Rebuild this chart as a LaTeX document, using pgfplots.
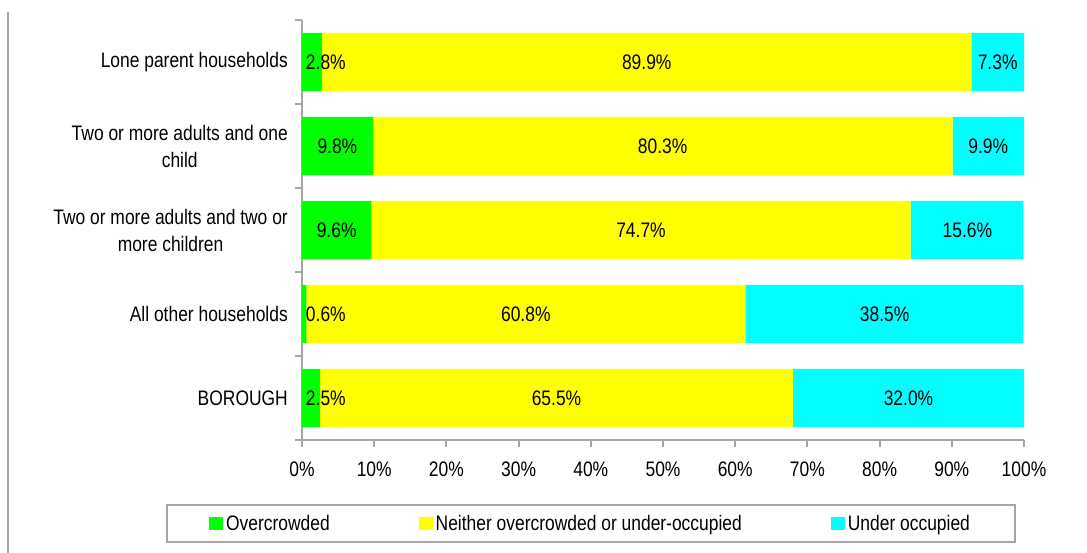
\documentclass[border=0pt]{standalone}
\usepackage{pgfplots}
\pgfplotsset{compat=1.18}
\usepackage{fontspec}
\setmainfont[FakeStretch=0.83]{Liberation Sans}
\definecolor{axgray}{RGB}{166,166,166}
\definecolor{cgreen}{RGB}{0,255,0}
\definecolor{cyellow}{RGB}{255,255,0}
\definecolor{ccyan}{RGB}{0,255,255}
\begin{document}
\begin{tikzpicture}[font=\fontsize{21bp}{27bp}\selectfont]
\path[use as bounding box] (0bp,0bp) rectangle (1087bp,553bp);
\draw[axgray, line width=1.5bp] (8bp,0bp) -- (8bp,541bp);
\begin{axis}[
  at={(302bp,113bp)}, anchor=south west,
  scale only axis, width=722bp, height=420bp,
  xmin=0, xmax=100, ymin=-0.5, ymax=4.5,
  xbar stacked, bar width=58bp,
  axis x line*=bottom, axis y line*=left,
  axis line style={draw=axgray, line width=2bp, -},
  tick align=outside, major tick length=7bp,
  tick style={draw=axgray, line width=2bp},
  xtick={0,10,...,100},
  xticklabel={\pgfmathprintnumber{\tick}\%},
  xticklabel style={inner sep=0pt, yshift=-15bp},
  ytick={-0.5,0.5,...,4.5}, yticklabels={},
  extra y ticks={0,1,2,3,4},
  extra y tick labels={BOROUGH, All other households, {Two or more adults and two or\\more children}, {Two or more adults and one\\child}, Lone parent households},
  extra y tick style={major tick length=0pt, yticklabel style={align=center, anchor=east, inner sep=0pt, xshift=-14bp}},
  /pgf/number format/assume math mode=true,
  legend columns=3,
  legend image code/.code={\draw[#1,/tikz/.cd,draw=none] (0bp,-6.5bp) rectangle (14bp,6.5bp);},
  legend style={at={(0.4003,-0.1988)}, anchor=center, draw=axgray, line width=2bp,
    inner xsep=42bp, inner ysep=7bp,
    /tikz/every even column/.append style={column sep=86bp},
    nodes={inner xsep=3bp, inner ysep=3bp}},
]
\addplot[fill=cgreen, draw=none] coordinates {(2.5,0) (0.6,1) (9.6,2) (9.8,3) (2.8,4)};
\addlegendentry{Overcrowded}
\addplot[fill=cyellow, draw=none] coordinates {(65.5,0) (60.8,1) (74.7,2) (80.3,3) (89.9,4)};
\addlegendentry{Neither overcrowded or under-occupied}
\addplot[fill=ccyan, draw=none] coordinates {(32.0,0) (38.5,1) (15.6,2) (9.9,3) (7.3,4)};
\addlegendentry{Under occupied}
\end{axis}
\begin{axis}[
  at={(302bp,113bp)}, anchor=south west,
  scale only axis, width=722bp, height=420bp,
  xmin=0, xmax=100, ymin=-0.5, ymax=4.5,
  hide axis, clip=false]
\addplot[only marks, mark=none, point meta=explicit symbolic,
  nodes near coords={\pgfplotspointmeta\%},
  every node near coord/.style={anchor=center, inner sep=0pt, text=black}]
  table[meta=lab] {
x y lab
3.3 4 2.8
47.75 4 89.9
96.35 4 7.3
4.9 3 9.8
49.95 3 80.3
95.05 3 9.9
4.8 2 9.6
46.95 2 74.7
92.15 2 15.6
3.3 1 0.6
31.0 1 60.8
80.7 1 38.5
3.3 0 2.5
35.25 0 65.5
84.0 0 32.0
};
\end{axis}
\end{tikzpicture}
\end{document}
